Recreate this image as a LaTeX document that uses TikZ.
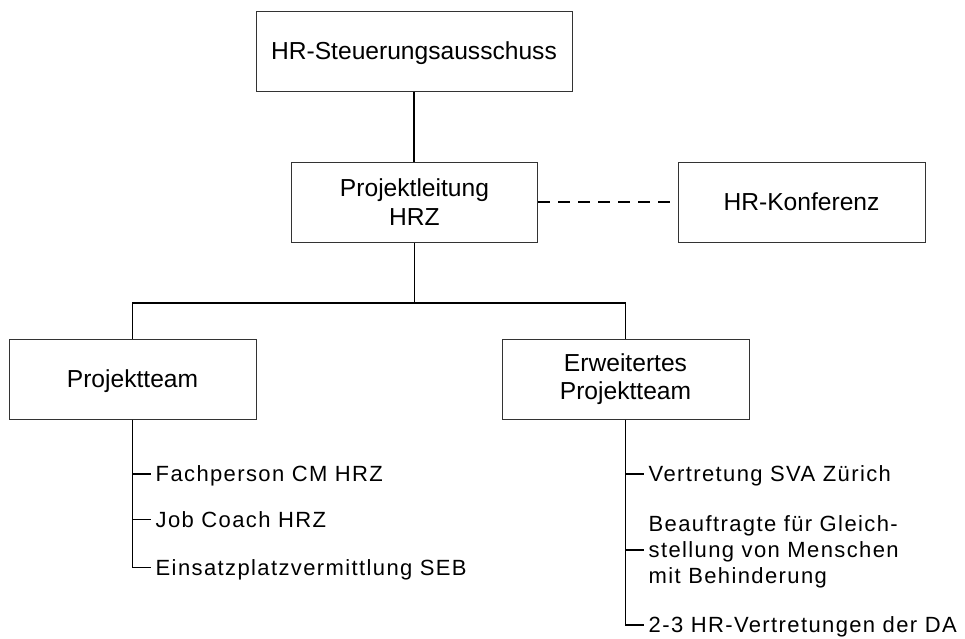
\documentclass[tikz,border=0pt]{standalone}
\usepackage{fontspec}
\setmainfont{Liberation Sans}
\newfontfamily\itemfont[LetterSpace=6.3]{Liberation Sans}
\begin{document}
\begin{tikzpicture}[x=1pt,y=-1pt,
  box/.style={draw=black!80, line width=1pt, minimum width=246pt, minimum height=80pt,
    align=center, inner sep=0pt, font=\fontsize{24.6}{28.5}\selectfont},
  one/.style={text height=17.6pt, text depth=0pt},
  ione/.style={text height=15.7pt, text depth=0pt},
  item/.style={anchor=west, inner xsep=4.5pt, inner ysep=0pt, align=left,
    font=\itemfont\fontsize{22}{26}\selectfont},
  conn/.style={line width=1.8pt},
  dashconn/.style={line width=1.4pt, dash pattern=on 12pt off 8pt},
  ]
\useasboundingbox (0,0) rectangle (965,638);
% boxes
\node[box, one, minimum width=316pt] (top) at (414,51) {HR-Steuerungsausschuss};
\node[box] (pl) at (414.5,202) {Projektleitung\\HRZ};
\node[box, one, minimum width=247pt] (hrk) at (801.5,202) {HR-Konferenz};
\node[box, one, minimum width=247pt] (pt) at (132.5,379) {Projektteam};
\node[box, minimum width=247pt] (ept) at (625.5,379) {Erweitertes\\Projektteam};
\coordinate (bus) at (414.5,303);
% items
\node[item, ione] (a1) at (151,474) {Fachperson CM HRZ};
\node[item, ione] (a2) at (151,519.5) {Job Coach HRZ};
\node[item, ione] (a3) at (151,567.5) {Einsatzplatzvermittlung SEB};
\node[item, ione] (b1) at (644,474) {Vertretung SVA Zürich};
\node[item] (b2) at (644,552.2) {Beauftragte für Gleich-\\stellung von Menschen\\mit Behinderung};
\node[item, ione] (b3) at (644,625) {2-3 HR-Vertretungen der DA};
\coordinate (b2t) at ([yshift=2.2pt]b2.west);
% connectors
\draw[conn] (top.south) -- (top.south |- pl.north);
\draw[conn] (pl.south) -- (bus);
\draw[conn] (pt.north) |- (bus) -| (ept.north);
\draw[dashconn] (pl.east) -- (hrk.west);
\draw[conn] (pt.south) |- (a3.west);
\draw[conn] (pt.south |- a1.west) -- (a1.west);
\draw[conn] (pt.south |- a2.west) -- (a2.west);
\draw[conn] (ept.south) |- (b3.west);
\draw[conn] (ept.south |- b1.west) -- (b1.west);
\draw[conn] (ept.south |- b2t) -- (b2t);
\end{tikzpicture}
\end{document}
